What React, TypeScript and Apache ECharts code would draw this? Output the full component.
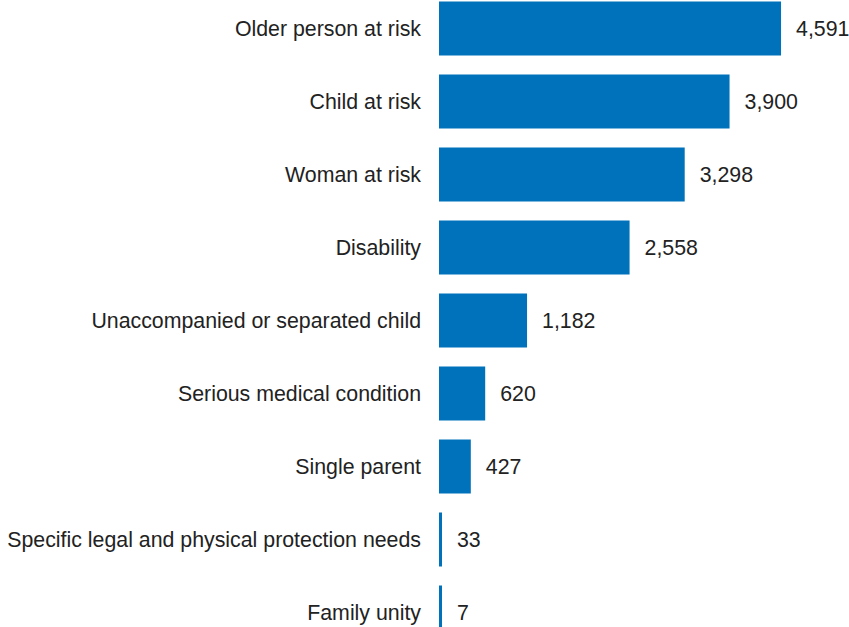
import React, { useEffect, useRef } from "react";
import * as echarts from "echarts";

const categories = [
  "Older person at risk",
  "Child at risk",
  "Woman at risk",
  "Disability",
  "Unaccompanied or separated child",
  "Serious medical condition",
  "Single parent",
  "Specific legal and physical protection needs",
  "Family unity",
];
const values = [4591, 3900, 3298, 2558, 1182, 620, 427, 33, 7];

export default function App() {
  const ref = useRef<HTMLDivElement>(null);
  useEffect(() => {
    document.body.style.margin = "0";
    const chart = echarts.init(ref.current!, null, { renderer: "svg" });
    const font = "Arial, 'Liberation Sans', sans-serif";
    chart.setOption({
      animation: false,
      grid: { left: 439, top: 0, height: 657, width: 372.5, containLabel: false },
      xAxis: {
        type: "value",
        min: 0,
        max: 5000,
        show: false,
        splitLine: { show: false },
      },
      yAxis: {
        type: "category",
        data: categories,
        inverse: true,
        axisLine: { show: false },
        axisTick: { show: false },
        axisLabel: {
          margin: 18,
          fontSize: 21.33,
          color: "#222222",
          fontFamily: font,
        },
      },
      series: [
        {
          type: "bar",
          data: values,
          barWidth: 54,
          barMinHeight: 3,
          itemStyle: { color: "#0072BC" },
          label: {
            show: true,
            position: "right",
            distance: 15,
            fontSize: 21.33,
            color: "#222222",
            fontFamily: font,
            formatter: (p: any) => Number(p.value).toLocaleString("en-US"),
          },
        },
      ],
    });
    return () => chart.dispose();
  }, []);
  return (
    <div style={{ position: "relative", width: 849, height: 627, overflow: "hidden" }}>
      <div
        ref={ref}
        style={{ position: "absolute", left: 0, top: -8.5, width: 849, height: 660 }}
      />
    </div>
  );
}
